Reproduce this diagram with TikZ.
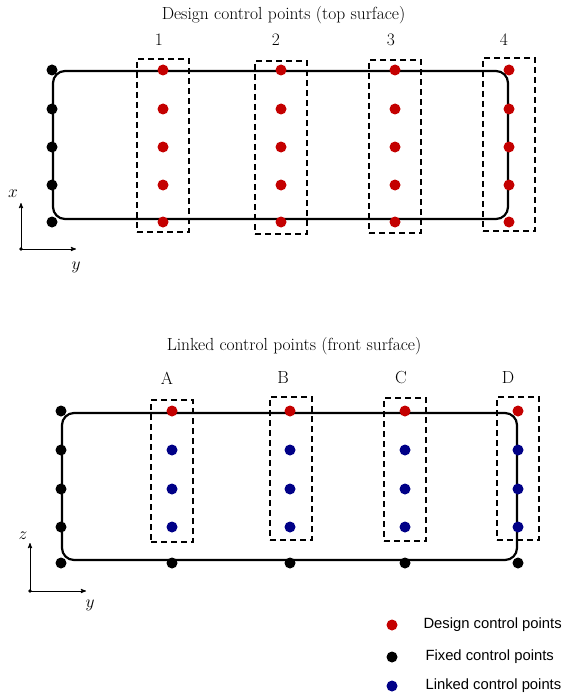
\RequirePackage{fix-cm}
\documentclass[tikz,border=0pt]{standalone}
\usepackage{fontspec}
\newfontfamily\legendfont{Liberation Sans}
\usetikzlibrary{shapes,arrows}
\tikzset{>=stealth'}

\definecolor{dsred}{RGB}{196,0,0}
\definecolor{lkblue}{RGB}{0,0,135}

\begin{document}
\begin{tikzpicture}[x=1pt, y=-1pt]

\useasboundingbox (0,0) rectangle (563,698);

%% styles
\tikzstyle{dot}=[circle, inner sep=0pt, minimum size=11pt]
\tikzstyle{designdot}=[style = dot, fill=dsred]
\tikzstyle{fixeddot}=[style = dot, fill=black]
\tikzstyle{linkeddot}=[style = dot, fill=lkblue]

\tikzstyle{surface}=[draw, line width=2.2pt, rounded corners=12pt]
\tikzstyle{groupbox}=[draw, line width=1.8pt, dash pattern=on 6pt off 4pt, inner sep=0pt, minimum width=52pt]
\tikzstyle{serif}=[font=\fontsize{17.5}{21}\selectfont]
\tikzstyle{legend}=[anchor=west, font=\legendfont\fontsize{14.8}{17}\selectfont]

%% top surface
\node(T1)[style = serif] at (283.5, 15)
{
Design control points (top surface)
};

\draw[style = surface] (53, 71) rectangle (508, 219);

\node(G1)[style = groupbox, minimum height=173pt] at (163, 145.5) {};
\node(G2)[style = groupbox, minimum height=173pt] at (281, 147.5) {};
\node(G3)[style = groupbox, minimum height=173pt] at (395, 146.5) {};
\node(G4)[style = groupbox, minimum height=173pt] at (509, 144.5) {};

\node(N1)[style = serif] at (159, 40) {1};
\node(N2)[style = serif] at (276, 40) {2};
\node(N3)[style = serif] at (391, 40) {3};
\node(N4)[style = serif] at (504, 40) {4};

\foreach \r/\y in {1/70, 2/109, 3/147, 4/185, 5/222}
{
  \node(F\r)[style = fixeddot] at (52, \y) {};
  \foreach \c/\x in {1/163, 2/281, 3/395, 4/509}
    \node(D\c\r)[style = designdot] at (\x, \y) {};
}

%% bottom surface
\node(T2)[style = serif] at (294, 346)
{
Linked control points (front surface)
};

\draw[style = surface] (62, 413) rectangle (517, 560);

\node(GA)[style = groupbox, minimum width=42pt, minimum height=142pt] at (172, 471) {};
\node(GB)[style = groupbox, minimum width=42pt, minimum height=143pt] at (291, 468.5) {};
\node(GC)[style = groupbox, minimum width=42pt, minimum height=143pt] at (405, 469.5) {};
\node(GD)[style = groupbox, minimum width=42pt, minimum height=143pt] at (518, 468.5) {};

\node(LA)[style = serif] at (167, 378) {A};
\node(LB)[style = serif] at (283, 378) {B};
\node(LC)[style = serif] at (401, 378) {C};
\node(LD)[style = serif] at (508, 378) {D};

\foreach \r/\y in {1/411, 2/450, 3/489, 4/527, 5/563}
  \node(E\r)[style = fixeddot] at (61, \y) {};

\foreach \c/\x in {A/172, B/290, C/405, D/518}
{
  \node(R\c)[style = designdot] at (\x, 411) {};
  \node(K\c1)[style = linkeddot] at (\x, 450) {};
  \node(K\c2)[style = linkeddot] at (\x, 489) {};
  \node(K\c3)[style = linkeddot] at (\x, 527) {};
  \node(B\c)[style = fixeddot] at (\x, 563) {};
}

%% axes
\coordinate(O1) at (21, 249);
\coordinate(X1) at (21, 203);
\coordinate(Y1) at (76, 249);
\fill (O1) circle (1.8pt);
\draw[->, line width=0.9pt] (O1) -- (X1);
\draw[->, line width=0.9pt] (O1) -- (Y1);
\node(AX)[style = serif] at (13, 194) {$x$};
\node(AY)[style = serif] at (76, 267) {$y$};

\coordinate(O2) at (30, 591);
\coordinate(Z2) at (30, 543);
\coordinate(Y2) at (86, 591);
\fill (O2) circle (1.8pt);
\draw[->, line width=0.9pt] (O2) -- (Z2);
\draw[->, line width=0.9pt] (O2) -- (Y2);
\node(BZ)[style = serif] at (23, 536) {$z$};
\node(BY)[style = serif] at (90, 605) {$y$};

%% legend
\node(M1)[style = designdot] at (392, 625) {};
\node(M2)[style = fixeddot] at (392, 657) {};
\node(M3)[style = linkeddot] at (392, 686) {};

\node(W1)[style = legend] at (420, 625) {Design control points};
\node(W2)[style = legend] at (422, 657) {Fixed control points};
\node(W3)[style = legend] at (422, 686) {Linked control points};

\end{tikzpicture}
\end{document}
